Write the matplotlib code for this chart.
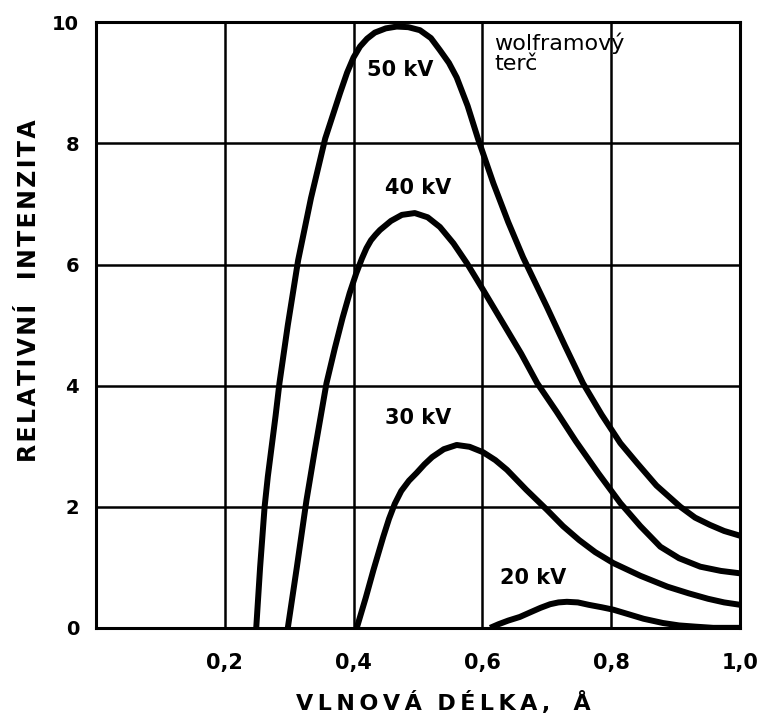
import matplotlib.pyplot as plt

# (wavelength in A, relative intensity)
x50 = [0.249, 0.252, 0.255, 0.2585, 0.262, 0.267, 0.273, 0.279, 0.285, 0.298, 0.314, 0.334,
       0.356, 0.379, 0.390, 0.400, 0.410, 0.421, 0.433, 0.450, 0.467, 0.485, 0.503, 0.520,
       0.534, 0.548, 0.560, 0.577, 0.593, 0.617, 0.640, 0.663, 0.700, 0.728, 0.756, 0.785,
       0.814, 0.840, 0.870, 0.907, 0.930, 0.953, 0.975, 1.000]
y50 = [0.00, 0.50, 1.00, 1.50, 2.00, 2.50, 3.00, 3.50, 4.04, 5.00, 6.07, 7.10,
       8.08, 8.83, 9.17, 9.42, 9.60, 9.73, 9.83, 9.90, 9.93, 9.92, 9.87, 9.74,
       9.54, 9.33, 9.09, 8.62, 8.08, 7.34, 6.70, 6.12, 5.30, 4.66, 4.04, 3.52,
       3.05, 2.72, 2.35, 2.00, 1.82, 1.70, 1.60, 1.52]

x40 = [0.298, 0.312, 0.327, 0.340, 0.358, 0.371, 0.383, 0.394, 0.404, 0.413, 0.420, 0.427,
       0.434, 0.441, 0.458, 0.475, 0.495, 0.515, 0.534, 0.555, 0.576, 0.600, 0.632, 0.660,
       0.685, 0.715, 0.745, 0.780, 0.814, 0.845, 0.876, 0.905, 0.938, 0.970, 1.000]
y40 = [0.00, 1.00, 2.11, 2.94, 4.04, 4.62, 5.12, 5.53, 5.85, 6.10, 6.27, 6.40,
       6.49, 6.57, 6.72, 6.82, 6.85, 6.78, 6.62, 6.35, 6.02, 5.60, 5.03, 4.53,
       4.04, 3.57, 3.08, 2.55, 2.06, 1.68, 1.34, 1.15, 1.01, 0.94, 0.90]

x30 = [0.405, 0.412, 0.419, 0.431, 0.446, 0.455, 0.464, 0.474, 0.486, 0.498, 0.510, 0.522,
       0.540, 0.560, 0.580, 0.601, 0.620, 0.638, 0.668, 0.700, 0.725, 0.750, 0.775, 0.803,
       0.845, 0.887, 0.920, 0.950, 0.975, 1.000]
y30 = [0.00, 0.25, 0.50, 0.96, 1.50, 1.80, 2.05, 2.26, 2.43, 2.56, 2.70, 2.82,
       2.95, 3.02, 2.99, 2.90, 2.77, 2.61, 2.28, 1.95, 1.68, 1.45, 1.25, 1.07,
       0.86, 0.68, 0.57, 0.48, 0.42, 0.38]

x20 = [0.612, 0.625, 0.640, 0.658, 0.675, 0.690, 0.705, 0.718, 0.731, 0.748, 0.765, 0.785,
       0.803, 0.825, 0.850, 0.880, 0.905, 0.930, 0.958, 1.000]
y20 = [0.00, 0.06, 0.12, 0.18, 0.26, 0.33, 0.39, 0.42, 0.43, 0.42, 0.38, 0.34,
       0.30, 0.23, 0.15, 0.08, 0.04, 0.02, 0.00, 0.00]

curves = [(x50, y50), (x40, y40), (x30, y30), (x20, y20)]
labels = ["50 kV", "40 kV", "30 kV", "20 kV"]
label_pos = [(0.472, 9.22), (0.50, 7.26), (0.50, 3.47), (0.678, 0.83)]

xticks = [0.2, 0.4, 0.6, 0.8, 1.0]
xticklabels = ["0,2", "0,4", "0,6", "0,8", "1,0"]
yticks = [0, 2, 4, 6, 8, 10]


def spaced(s, gap="\u2009"):
    # the scan uses wide letter spacing
    return gap.join(s)


fig = plt.figure(figsize=(7.6, 7.2), dpi=100)
ax = fig.add_axes([0.126, 0.128, 0.848, 0.841])

for xs, ys in curves:
    ax.plot(xs, ys, color="black", lw=4.3, solid_joinstyle="round",
            solid_capstyle="butt", zorder=3)

for lab, (lx, ly) in zip(labels, label_pos):
    ax.text(lx, ly, lab, ha="center", va="center", fontsize=15,
            fontweight="bold", zorder=4)

ax.text(0.618, 9.84, "wolframový\nterč", ha="left", va="top", fontsize=16,
        linespacing=1.0, zorder=4)

ax.set_xlim(0, 1.0)
ax.set_ylim(0, 10)
ax.set_xticks(xticks)
ax.set_xticklabels(xticklabels)
ax.set_yticks(yticks)
ax.grid(True, color="black", lw=1.8)
ax.tick_params(axis="x", length=0, labelsize=15, pad=18)
ax.tick_params(axis="y", length=0, labelsize=14, pad=12)
for t in ax.get_xticklabels() + ax.get_yticklabels():
    t.set_fontweight("bold")
for s in ax.spines.values():
    s.set_linewidth(2.2)

ax.set_xlabel(spaced("VLNOVÁ") + "  " + spaced("DÉLKA,") + "   Å",
              fontsize=16, fontweight="bold")
ax.set_ylabel(spaced("RELATIVNÍ", "\u200a") + "   " + spaced("INTENZITA", "\u200a"),
              fontsize=17, fontweight="bold")
ax.xaxis.set_label_coords(0.539, -0.105)
ax.yaxis.set_label_coords(-0.085, 0.556)

fig.savefig("out.png", dpi=100)
